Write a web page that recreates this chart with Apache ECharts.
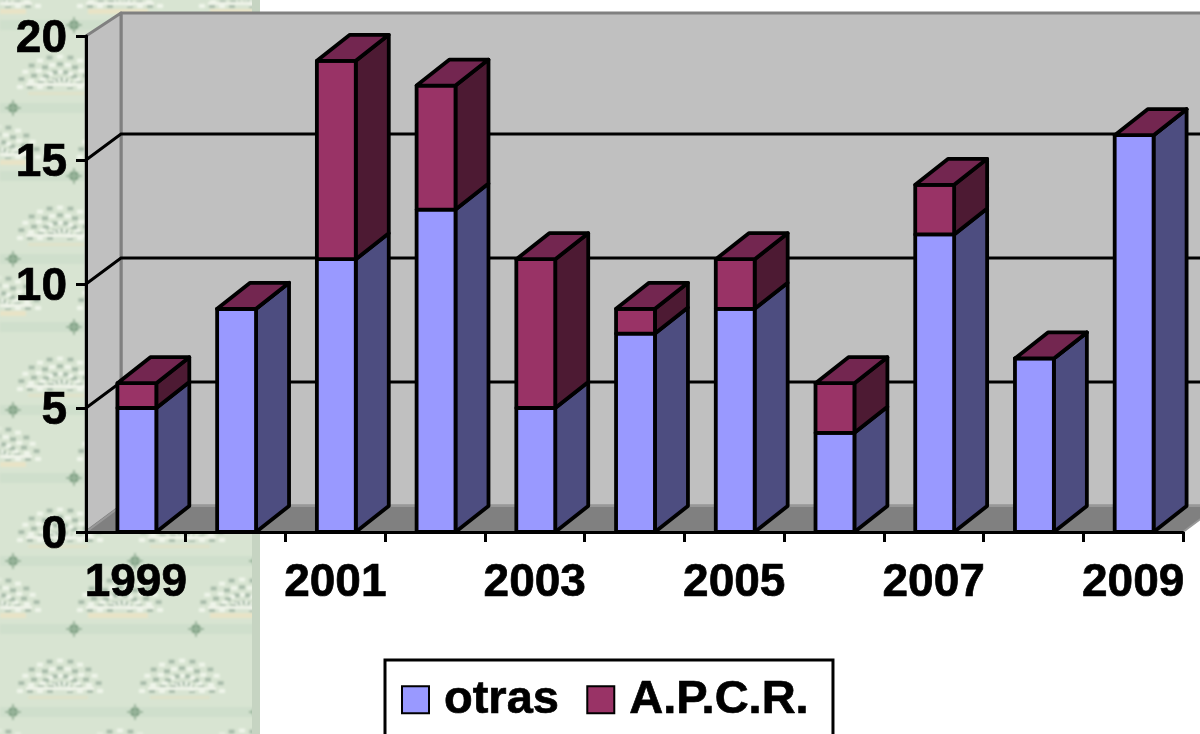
<!DOCTYPE html>
<html lang="es">
<head>
    <meta charset="UTF-8">
    <title>otras / A.P.C.R.</title>
    <script src="https://cdn.jsdelivr.net/npm/echarts@6/dist/echarts.min.js"></script>
    <style>
        html, body { margin: 0; padding: 0; background: #fff; overflow: hidden; }
        #bg { position: absolute; left: 0; top: 0; width: 260px; height: 734px; overflow: hidden; background: #d8e4d2; }
        #main { position: absolute; left: 0; top: 0; width: 1200px; height: 734px; }
    </style>
</head>
<body>
<div id="bg"></div>
<div id="main"></div>

<script>
    var years = ['1999', '2000', '2001', '2002', '2003', '2004', '2005', '2006', '2007', '2008', '2009'];
    var otras = [5, 9, 11, 13, 5, 8, 9, 4, 12, 7, 16];
    var apcr = [1, 0, 8, 5, 6, 1, 2, 2, 2, 0, 0];
    var yTicks = [5, 10, 15];

    // papel de fondo de la izquierda (solo decoracion)
    function rosette(cx, cy) {
        var s = '';
        var radii = [8, 16, 24, 32];
        for (var r = 0; r < radii.length; r++) {
            for (var a = 0; a <= 12; a++) {
                var ang = Math.PI * a / 12;
                var x = cx + Math.cos(ang) * radii[r] * 1.25;
                var y = cy - Math.sin(ang) * radii[r] * 0.95;
                var c = (a + r) % 2 ? '#eff5ea' : '#a8bcaa';
                s += '<rect x="' + (x - 3).toFixed(1) + '" y="' + (y - 2).toFixed(1) + '" width="6" height="4" fill="' + c + '"/>';
            }
        }
        s += '<rect x="' + (cx - 34) + '" y="' + (cy - 4) + '" width="68" height="3" fill="#eef3e8"/>';
        return s;
    }
    function dot(cx, cy) {
        return '<circle cx="' + cx + '" cy="' + cy + '" r="5" fill="#7fa083"/>' +
            '<rect x="' + (cx - 8) + '" y="' + (cy - 1) + '" width="16" height="2" fill="#9ab59c"/>' +
            '<rect x="' + (cx - 1) + '" y="' + (cy - 8) + '" width="2" height="16" fill="#9ab59c"/>';
    }
    var tile = '<rect width="122" height="151" fill="#d8e4d2"/>' +
        '<rect y="20" width="122" height="10" fill="#cfdfcc"/>' +
        '<rect y="103" width="122" height="10" fill="#cfdfcc"/>' +
        '<rect x="88" y="9" width="60" height="5" fill="#e8e3c6"/>' +
        '<rect x="-34" y="9" width="60" height="5" fill="#e8e3c6"/>' +
        '<rect x="28" y="92" width="60" height="3" fill="#dfe1c8"/>' +
        rosette(60, 87) + rosette(120, 6) + rosette(-2, 6) + rosette(120, 157) + rosette(-2, 157) +
        dot(13, 108) + dot(74, 25);
    document.getElementById('bg').innerHTML =
        '<svg width="260" height="734" xmlns="http://www.w3.org/2000/svg"><defs>' +
        '<filter id="soft" x="0" y="0" width="100%" height="100%"><feGaussianBlur stdDeviation="1.2"/></filter>' +
        '<pattern id="tile" width="122" height="151" patternUnits="userSpaceOnUse">' + tile + '</pattern></defs>' +
        '<rect width="260" height="734" fill="url(#tile)" filter="url(#soft)"/>' +
        '<rect x="252" width="8" height="734" fill="#c6d4c2"/></svg>';

    var chart = echarts.init(document.getElementById('main'), null, {renderer: 'canvas'});

    var wallDx = 35, wallDy = 26, wallTopDy = 23;
    var barDx = 33, barDy = 26, barLine = 3.8;

    function poly(points, fill, stroke, width) {
        return {
            type: 'polygon',
            shape: {points: points},
            style: {fill: fill, stroke: stroke, lineWidth: width, lineJoin: 'round'}
        };
    }

    function renderWalls(params, api) {
        var band = api.size([1, 0])[0];
        var left = api.coord([0, 0])[0] - band / 2;
        var right = api.coord([years.length - 1, 0])[0] + band / 2;
        var y0 = api.coord([0, 0])[1];
        var y20 = api.coord([0, 20])[1];
        var gray = '#808080';
        var kids = [
            poly([[left + wallDx, y20 - wallTopDy], [right + wallDx, y20 - wallTopDy], [right + wallDx, y0 - wallDy], [left + wallDx, y0 - wallDy]], '#c0c0c0', gray, 3),
            poly([[left, y20], [left + wallDx, y20 - wallTopDy], [left + wallDx, y0 - wallDy], [left, y0]], '#c0c0c0', gray, 3),
            poly([[left, y0], [left + wallDx, y0 - wallDy], [right + wallDx, y0 - wallDy], [right, y0]], gray, '#989898', 2)
        ];
        yTicks.forEach(function (v) {
            var y = api.coord([0, v])[1];
            kids.push({
                type: 'polyline',
                shape: {points: [[left, y], [left + wallDx, y - wallDy], [right + wallDx, y - wallDy]]},
                style: {fill: null, stroke: '#000', lineWidth: 3}
            });
        });
        return {type: 'group', children: kids};
    }

    function barRenderer(front, side, top) {
        return function (params, api) {
            var c = api.coord([api.value(0), api.value(1)]);
            var t = api.coord([api.value(0), api.value(2)]);
            var w = api.size([1, 0])[0] * 0.39;
            var x0 = c[0] + 1 - w / 2, x1 = x0 + w;
            var yb = c[1], yt = t[1];
            var kids = [
                poly([[x1, yb], [x1 + barDx, yb - barDy], [x1 + barDx, yt - barDy], [x1, yt]], side, '#000', barLine),
                poly([[x0, yb], [x1, yb], [x1, yt], [x0, yt]], front, '#000', barLine)
            ];
            if (top) {
                kids.push(poly([[x0, yt], [x1, yt], [x1 + barDx, yt - barDy], [x0 + barDx, yt - barDy]], top, '#000', barLine));
            }
            return {type: 'group', children: kids};
        };
    }

    var otrasData = [], apcrData = [];
    for (var i = 0; i < years.length; i++) {
        otrasData.push([i, 0, otras[i]]);
        apcrData.push([i, otras[i], otras[i] + apcr[i]]);
    }

    var labelFont = {
        fontFamily: 'Liberation Sans', fontWeight: 'bold', fontSize: 46, color: '#000',
        textBorderColor: '#000', textBorderWidth: 0.7
    };

    var option = {
        animation: false,
        backgroundColor: 'transparent',
        grid: {left: 86, top: 36, width: 1097, height: 496, containLabel: false},
        xAxis: {
            type: 'category',
            data: years,
            boundaryGap: true,
            z: 1,
            axisLine: {lineStyle: {color: '#000', width: 3}},
            axisTick: {show: true, interval: 0, length: 10, lineStyle: {color: '#000', width: 3}},
            axisLabel: Object.assign({interval: 1, margin: 28, hideOverlap: false}, labelFont)
        },
        yAxis: {
            type: 'value',
            min: 0,
            max: 20,
            interval: 5,
            z: 1,
            splitLine: {show: false},
            axisLine: {show: true, lineStyle: {color: '#000', width: 3}},
            axisTick: {show: true, length: 10, lineStyle: {color: '#000', width: 3}},
            axisLabel: Object.assign({margin: 19, verticalAlign: 'top', lineHeight: 7, showMinLabel: true, showMaxLabel: true}, labelFont)
        },
        legend: {
            left: 385,
            top: 660,
            data: ['otras', 'A.P.C.R.'],
            orient: 'horizontal',
            icon: 'rect',
            itemWidth: 27,
            itemHeight: 27,
            itemGap: 27,
            padding: [16, 24, 30, 16],
            borderColor: '#000',
            borderWidth: 3,
            backgroundColor: '#fff',
            selectedMode: false,
            textStyle: Object.assign({padding: [0, 0, 0, 10]}, labelFont, {fontSize: 47})
        },
        series: [
            {
                type: 'custom',
                name: 'fondo',
                z: 0,
                silent: true,
                data: [[0, 0]],
                renderItem: renderWalls
            },
            {
                type: 'custom',
                name: 'otras',
                z: 2,
                encode: {x: 0, y: [1, 2]},
                itemStyle: {color: '#9999ff', borderColor: '#000', borderWidth: 3},
                data: otrasData,
                renderItem: barRenderer('#9999ff', '#4d4d80', null)
            },
            {
                type: 'custom',
                name: 'A.P.C.R.',
                z: 3,
                encode: {x: 0, y: [1, 2]},
                itemStyle: {color: '#993366', borderColor: '#000', borderWidth: 3},
                data: apcrData,
                renderItem: barRenderer('#993366', '#4d1a33', '#732650')
            }
        ]
    };
    chart.setOption(option);
</script>
</body>
</html>
